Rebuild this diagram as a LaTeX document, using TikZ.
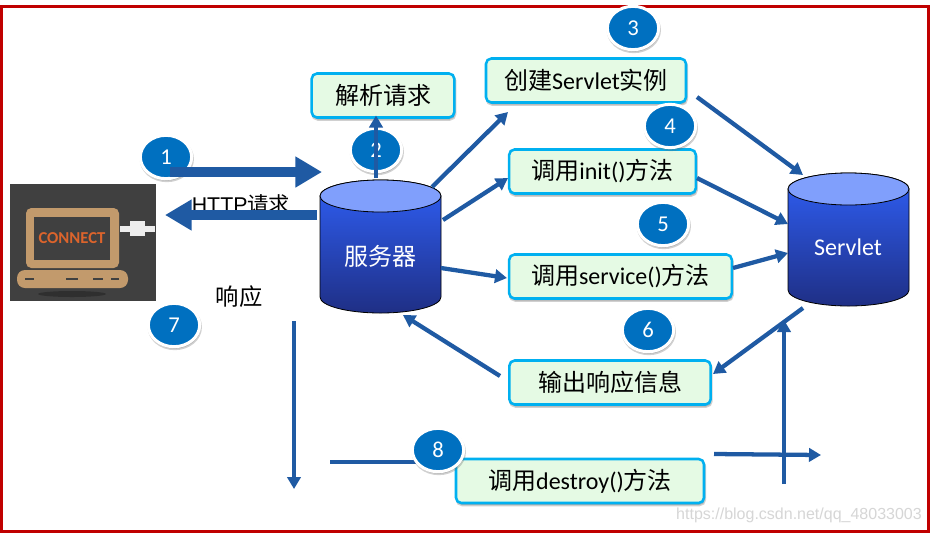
\documentclass[tikz,border=0pt]{standalone}
\usepackage{fontspec}
\setmainfont{Carlito}
\newfontfamily\cjk{Noto Sans CJK SC}
\newfontfamily\arial{Liberation Sans}
\usetikzlibrary{arrows.meta,shapes.geometric}
\newcommand{\Zh}[1]{{\cjk #1}}
\definecolor{frame}{HTML}{C00000}
\definecolor{arrowblue}{HTML}{1F5AA3}
\definecolor{badge}{HTML}{0070C0}
\definecolor{boxfill}{HTML}{E5FAE4}
\definecolor{boxline}{HTML}{00B0F0}
\definecolor{laptop}{HTML}{C29A6C}
\definecolor{screen}{HTML}{404040}
\definecolor{cyltop}{HTML}{809FFC}
\definecolor{cylhigh}{HTML}{2F5FF5}
\definecolor{cyllow}{HTML}{1F2F85}
\definecolor{connecttext}{HTML}{DC642C}
\tikzset{
  x=0.75pt,y=-0.75pt,
  softshadow/.style={preaction={draw=black!60,fill=black!60,opacity=.3,transform canvas={shift={(.6pt,-1.5pt)}}}},
  stepbox/.style={rectangle,rounded corners=4pt,draw=boxline,line width=1.9pt,fill=boxfill,
    inner sep=0pt,minimum height=33pt,font=\fontsize{18}{20}\selectfont,text=black,softshadow},
  numbadge/.style={ellipse,draw=white,line width=2.25pt,fill=badge,inner sep=0pt,
    minimum width=38.5pt,minimum height=32.5pt,text=white,font=\fontsize{17}{20}\selectfont,softshadow},
  thinarrow/.style={draw=arrowblue,line width=3.2pt,-{Triangle[length=9pt,width=10pt]}},
  thinline/.style={draw=arrowblue,line width=3.2pt},
  bigarrow/.style={draw=arrowblue,line width=7.5pt,-{Triangle[length=20pt,width=22pt]}},
  cyltext/.style={rectangle,inner sep=0pt,minimum width=90pt,minimum height=100pt,text=white,font=\fontsize{18}{20}\selectfont},
  plain/.style={inner sep=0pt,text=black},
}
\begin{document}
\begin{tikzpicture}
\useasboundingbox (0,0) rectangle (930,533);
\fill[white] (0,0) rectangle (930,533);
\draw[frame,line width=2.4pt] (1.5,6.5) rectangle (928.5,531.5);

% laptop
\fill[screen] (10,184) rectangle (156,301);
\fill[black,opacity=.25] (72,294) ellipse (34 and 3);
\fill[white!93!black] (120,226) rectangle (155,232);
\fill[white!93!black] (130,221) rectangle (145,236);
\fill[laptop,rounded corners=4pt] (26,208) rectangle (119,268);
\fill[screen] (34,217) rectangle (110,260);
\fill[laptop,rounded corners=6pt] (17,270) rectangle (128,288);
\foreach \a/\b in {25/34,66/78,93/103,111/119}{\fill[screen] (\a,278) rectangle (\b,280);}
\node[inner sep=0pt,text=connecttext,font=\fontsize{12.5}{14}\selectfont\bfseries] (connect) at (72,238.5) {CONNECT};

% cylinders
\foreach \l/\t in {320/180,788/173}{
  \path[draw=black,line width=.6pt,top color=cylhigh,bottom color=cyllow]
    (\l,\t+16) -- (\l,\t+117) arc[start angle=180,end angle=0,x radius=60.5,y radius=16]
    -- (\l+121,\t+16) arc[start angle=0,end angle=-180,x radius=60.5,y radius=16] -- cycle;
  \path[draw=black,line width=.6pt,fill=cyltop] (\l+60.5,\t+16) ellipse (60.5 and 16);
}
\node[cyltext] (server) at (380,256) {\Zh{服务器}};
\node[cyltext] (servlet) at (848,247) {Servlet};

% badges behind arrows
\node[numbadge] (n1) at (166,157) {1};
\node[numbadge] (n2) at (376,150) {2};
\node[numbadge] (n3) at (633,28) {3};
\node[numbadge] (n5) at (663,224) {5};
\node[numbadge] (n6) at (648,330) {6};
\node[numbadge] (n7) at (174,325) {7};

% boxes
\node[stepbox,minimum width=107pt] (parse) at (383,95.5) {\Zh{解析请求}};
\node[stepbox,minimum width=150pt] (create) at (586,80.5) {\Zh{创建}Servlet\Zh{实例}};
\node[stepbox,minimum width=140pt] (init) at (602.5,171.5) {\Zh{调用}init()\Zh{方法}};
\node[stepbox,minimum width=167pt] (service) at (620.5,276.5) {\Zh{调用}service()\Zh{方法}};
\node[stepbox,minimum width=151pt] (output) at (610,382.5) {\Zh{输出响应信息}};
\node[stepbox,minimum width=186pt] (destroy) at (580,481) {\Zh{调用}destroy()\Zh{方法}};
\node[numbadge] (n4) at (670,126) {4};

% labels
\node[plain,font=\fontsize{16}{18}\selectfont\arial] (http) at (241,204) {HTTP\Zh{请求}};
\node[plain,font=\fontsize{17.5}{20}\selectfont] (resp) at (239,297) {\Zh{响应}};
\node[inner sep=0pt,text=black!16,font=\fontsize{12}{14}\selectfont\arial] (mark) at (799,515) {https://blog.csdn.net/qq\_48033003};

% named free ends
\coordinate (reqstart) at (170,172);
\coordinate (respend) at (165,215);
\coordinate (downstart) at (294,321);
\coordinate (downend) at (294,489);
\coordinate (stubstart) at (330,462);
\coordinate (stubend) at (425,462);
\coordinate (outend) at (821,455);
\coordinate (upstart) at (784,484);
\coordinate (upend) at (784,320);

% connectors
\draw[bigarrow] (reqstart) -- ([shift={(-58,-84)}]server.center);
\draw[bigarrow] ([shift={(-63,-41)}]server.center) -- (respend);
\draw[thinarrow] ([shift={(-4,-78)}]server.center) -- ([shift={(-7,20)}]parse.center);
\draw[thinarrow] ([shift={(52,-69)}]server.center) -- ([shift={(-78,31.5)}]create.center);
\draw[thinarrow] ([shift={(63,-36)}]server.center) -- ([shift={(-94.5,6.5)}]init.center);
\draw[thinarrow] ([shift={(61,12)}]server.center) -- ([shift={(-113.5,1.5)}]service.center);
\draw[thinarrow] ([shift={(111,16.5)}]create.center) -- ([shift={(-45,-72)}]servlet.center);
\draw[thinarrow] ([shift={(94.5,6.5)}]init.center) -- ([shift={(-60,-23)}]servlet.center);
\draw[thinarrow] ([shift={(112.5,-8.5)}]service.center) -- ([shift={(-60,6)}]servlet.center);
\draw[thinarrow] ([shift={(-45,61)}]servlet.center) -- ([shift={(103,-8.5)}]output.center);
\draw[thinarrow] ([shift={(-110,-6.5)}]output.center) -- ([shift={(23,59)}]server.center);
\draw[thinarrow] (downstart) -- (downend);
\draw[thinline] (stubstart) -- (stubend);
\draw[thinarrow] ([shift={(134,-27)}]destroy.center) -- (outend);
\draw[thinarrow] (upstart) -- (upend);

\node[numbadge] (n8) at (438,450) {8};
\end{tikzpicture}
\end{document}
